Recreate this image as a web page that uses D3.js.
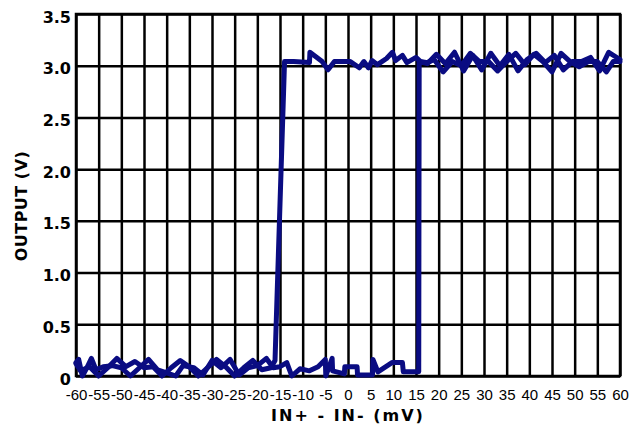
<!DOCTYPE html>
<html>
<head>
<meta charset="utf-8">
<script src="https://cdn.jsdelivr.net/npm/d3@7"></script>
<style>
  html, body { margin: 0; padding: 0; background: #fff; }
  svg { display: block; }
</style>
</head>
<body>
<svg id="chart" width="639" height="428"></svg>
<script>
// Comparator transfer curve: output voltage vs differential input, swept up then down.

// Sweep with increasing input (mV, V)
const upInput = [
  -60, -59.4, -58.6, -57.6, -56.6, -55.6, -54, -52, -50, -48, -46, -44, -42, -40, -38,
  -36.4, -34, -32, -30, -28, -26, -24, -22, -20, -18, -16.5, -15, -13.5, -12.4, -10.6,
  -8.5, -6.6, -5.0, -4.9, -3.5, -3.4, -0.8, -0.7, 2.0, 2.1, 5.4, 5.5, 6.6, 9.7, 12.0,
  12.2, 15.6, 15.7, 17.5, 19.5, 21.5, 23.5, 25.5, 27.5, 29.5, 31.5, 33.5, 35.5, 37.5,
  39.5, 41.5, 43.5, 45.5, 47.5, 49.5, 51.5, 53.5, 55.5, 57.5, 60
];
const upOutput = [
  0.13, 0.16, 0.0, 0.08, 0.17, 0.06, 0.09, 0.10, 0.08, 0.0, 0.08, 0.16, 0.06, 0.03, 0.0,
  0.10, 0.08, 0.01, 0.15, 0.08, 0.16, 0.01, 0.08, 0.10, 0.17, 0.08, 0.09, 0.13, 0.0, 0.07,
  0.05, 0.09, 0.16, 0.0, 0.17, 0.05, 0.02, 0.09, 0.09, 0.01, 0.01, 0.16, 0.04, 0.13, 0.13,
  0.04, 0.04, 3.04, 3.02, 3.11, 3.02, 3.13, 2.95, 3.10, 2.96, 3.12, 3.00, 3.11, 2.95,
  3.06, 3.12, 3.03, 3.10, 2.96, 3.04, 3.04, 3.08, 2.95, 3.13, 3.06
];

// Sweep with decreasing input (mV, V)
const downInput = [
  60, 58.5, 57, 55, 53, 51, 49, 47, 45, 43, 41, 39, 37, 35, 33, 31, 29, 27, 25, 23, 21,
  19, 17.5, 16, 15, 13, 12, 10.5, 9.8, 8.5, 6.5, 5.3, 4.5, 3.5, 2.5, 0.5, -3, -4.4, -5.7,
  -8.4, -8.5, -12, -14.0, -16.1, -17, -19, -21, -23, -25, -27, -29, -31, -33, -35, -37,
  -39, -41, -43, -45, -47, -49, -51, -53, -55, -57, -59, -60
];
const downOutput = [
  3.04, 3.04, 2.94, 3.04, 3.04, 2.99, 3.04, 3.12, 2.94, 3.04, 3.11, 3.01, 3.12, 3.04, 2.95,
  3.04, 3.04, 3.12, 3.00, 3.04, 2.94, 3.06, 3.03, 3.04, 3.08, 3.03, 3.10, 3.05, 3.13, 3.07,
  3.01, 3.05, 2.98, 3.04, 2.98, 3.04, 3.04, 2.96, 3.04, 3.13, 3.03, 3.04, 3.04, 0.15, 0.08,
  0.06, 0.15, 0.08, 0.0, 0.09, 0.16, 0.08, 0.0, 0.09, 0.15, 0.08, 0.0, 0.09, 0.08, 0.14,
  0.09, 0.17, 0.08, 0.0, 0.09, 0.05, 0.12
];

const xTickValues = [-60, -55, -50, -45, -40, -35, -30, -25, -20, -15, -10, -5, 0,
                     5, 10, 15, 20, 25, 30, 35, 40, 45, 50, 55, 60];
const yTickValues = [0, 0.5, 1.0, 1.5, 2.0, 2.5, 3.0, 3.5];
const yTickLabels = ["0", "0.5", "1.0", "1.5", "2.0", "2.5", "3.0", "3.5"];

const xTitle = "IN+ - IN- (mV)";
const yTitle = "OUTPUT (V)";

const plot = { left: 76, right: 620, top: 14, bottom: 376 };
const svg = d3.select("#chart");

const x = d3.scaleLinear().domain([-60, 60]).range([plot.left, plot.right]);
const y = d3.scaleLinear().domain([0, 3.5]).range([plot.bottom, plot.top]);

const gridColor = "#000";
const gridWidth = 2.5;

// Vertical grid lines + x tick labels
const xAxis = svg.append("g")
  .attr("transform", `translate(0,${plot.bottom})`)
  .call(d3.axisBottom(x)
    .tickValues(xTickValues)
    .tickSize(-(plot.bottom - plot.top))
    .tickPadding(13)
    .tickFormat(d => String(d)));
xAxis.select(".domain").remove();
xAxis.selectAll(".tick line").attr("stroke", gridColor).attr("stroke-width", gridWidth);
xAxis.selectAll(".tick text")
  .attr("fill", "#000")
  .style("font-family", "'Liberation Sans', Arial, sans-serif")
  .style("font-size", "15px");

// Horizontal grid lines + y tick labels
const yAxis = svg.append("g")
  .attr("transform", `translate(${plot.left},0)`)
  .call(d3.axisLeft(y)
    .tickValues(yTickValues)
    .tickSize(-(plot.right - plot.left))
    .tickPadding(5)
    .tickFormat((d, i) => yTickLabels[i]));
yAxis.select(".domain").remove();
yAxis.selectAll(".tick line").attr("stroke", gridColor).attr("stroke-width", gridWidth);
yAxis.selectAll(".tick text")
  .attr("fill", "#000")
  .attr("dy", "0.5em")
  .style("font-family", "'DejaVu Sans', Verdana, sans-serif")
  .style("font-weight", "bold")
  .style("font-size", "16px");

// Plot frame
svg.append("rect")
  .attr("x", plot.left).attr("y", plot.top)
  .attr("width", plot.right - plot.left)
  .attr("height", plot.bottom - plot.top)
  .attr("fill", "none")
  .attr("stroke", gridColor)
  .attr("stroke-width", gridWidth);

// Output traces
const line = d3.line().x(d => x(d[0])).y(d => y(d[1]));
const traceColor = "#0a0c82";
const upPoints = upInput.map((v, i) => [v, upOutput[i]]);
const downPoints = downInput.map((v, i) => [v, downOutput[i]]);

[upPoints, downPoints].forEach(pts => {
  svg.append("path")
    .datum(pts)
    .attr("d", line)
    .attr("fill", "none")
    .attr("stroke", traceColor)
    .attr("stroke-width", 5)
    .attr("stroke-linejoin", "round")
    .attr("stroke-linecap", "round");
});

// Axis titles
svg.append("text")
  .attr("x", (plot.left + plot.right) / 2)
  .attr("y", 421)
  .attr("text-anchor", "middle")
  .style("font-family", "'DejaVu Sans', Verdana, sans-serif")
  .style("font-weight", "bold")
  .style("font-size", "16px")
  .style("letter-spacing", "2px")
  .text(xTitle);

svg.append("text")
  .attr("transform", "translate(27,206) rotate(-90)")
  .attr("text-anchor", "middle")
  .style("font-family", "'DejaVu Sans', Verdana, sans-serif")
  .style("font-weight", "bold")
  .style("font-size", "16px")
  .style("letter-spacing", "0.5px")
  .text(yTitle);
</script>
</body>
</html>
